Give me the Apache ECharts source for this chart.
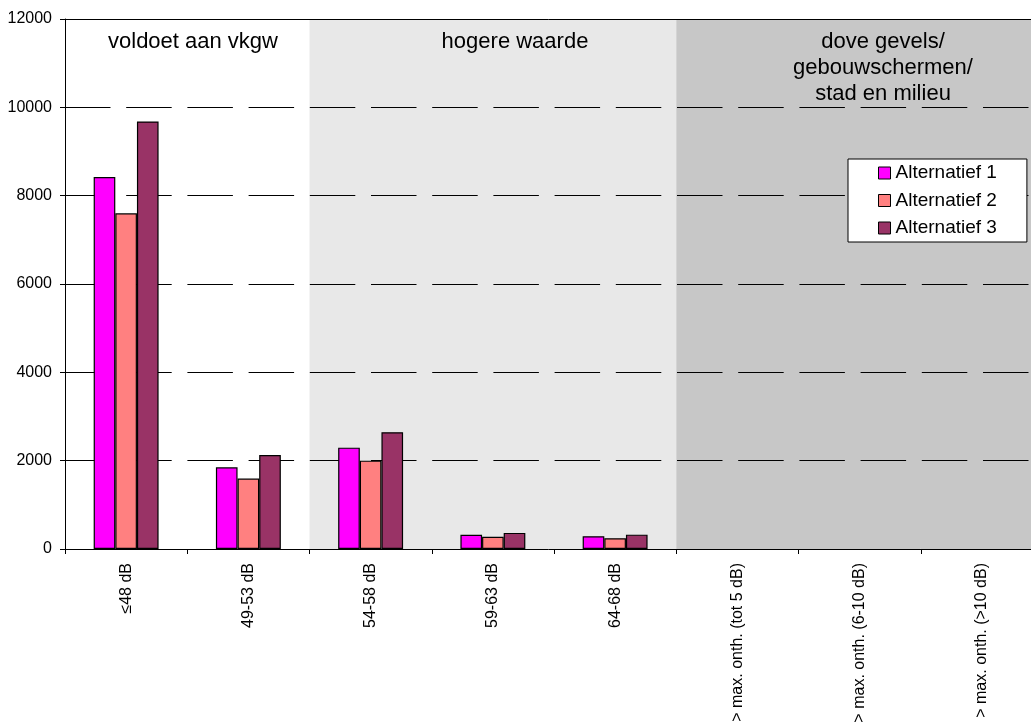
<!DOCTYPE html>
<html>
<head>
<meta charset="utf-8">
<script src="https://cdn.jsdelivr.net/npm/echarts@6/dist/echarts.min.js"></script>
<style>
  html, body { margin: 0; padding: 0; background: #ffffff; }
  #chart { width: 1031px; height: 724px; }
</style>
</head>
<body>
<div id="chart"></div>
<script>
// Noise classes (dB) and number of dwellings per alternative
const categories = [
  '≤48 dB', '49-53 dB', '54-58 dB', '59-63 dB', '64-68 dB',
  '> max. onth. (tot 5 dB)', '> max. onth. (6-10 dB)', '> max. onth. (>10 dB)'
];
const seriesNames = ['Alternatief 1', 'Alternatief 2', 'Alternatief 3'];
const alternatief1 = [8420, 1850, 2295, 320, 290, null, null, null];
const alternatief2 = [7600, 1595, 2000, 275, 245, null, null, null];
const alternatief3 = [9680, 2130, 2645, 365, 325, null, null, null];
const yTicks = { min: 0, max: 12000, step: 2000 };

// Background zones per category and the zone captions
const zoneFills = ['#ffffff', '#ffffff', '#e8e8e8', '#e8e8e8', '#e8e8e8', '#c7c7c7', '#c7c7c7', '#c7c7c7'];
const zoneCaptions = ['voldoet aan vkgw', 'hogere waarde', 'dove gevels/\ngebouwschermen/\nstad en milieu'];

const FONT = "'Liberation Sans', Arial, sans-serif";
const colors = ['#ff00ff', '#ff8080', '#993366'];
const values = [alternatief1, alternatief2, alternatief3];

const chart = echarts.init(document.getElementById('chart'), null, { renderer: 'canvas' });

function caption(text, x) {
  return {
    type: 'text',
    x: x,
    y: 29,
    z: 100,
    silent: true,
    style: {
      text: text,
      fontSize: 22,
      fontFamily: FONT,
      lineHeight: 26,
      fill: '#000',
      align: 'center',
      verticalAlign: 'top'
    }
  };
}

const option = {
  animation: false,
  backgroundColor: '#ffffff',
  textStyle: { fontFamily: FONT, color: '#000' },
  // plot runs a little past the right edge of the page; labels may overflow
  grid: { left: 65, top: 19, width: 978, height: 530, containLabel: false, outerBoundsMode: 'none' },
  xAxis: [
    {
      type: 'category',
      data: categories,
      boundaryGap: true,
      z: 0,
      axisLine: { show: true, lineStyle: { color: '#000', width: 1 } },
      axisTick: { show: true, inside: false, length: 5, alignWithLabel: false, interval: 0, lineStyle: { color: '#000' } },
      axisLabel: { interval: 0, rotate: 90, margin: 14, fontSize: 16, color: '#000', fontFamily: FONT },
      splitLine: { show: false },
      splitArea: { show: true, interval: 0, areaStyle: { color: zoneFills } }
    },
    {
      // frame line along the top of the plot
      type: 'category',
      data: categories,
      position: 'top',
      z: 3,
      axisLine: { show: true, onZero: false, lineStyle: { color: '#000', width: 1 } },
      axisTick: { show: false },
      axisLabel: { show: false },
      splitLine: { show: false }
    }
  ],
  yAxis: {
    type: 'value',
    min: yTicks.min,
    max: yTicks.max,
    interval: yTicks.step,
    z: 1,
    axisLine: { show: true, lineStyle: { color: '#000', width: 1 } },
    axisTick: { show: true, inside: false, length: 5, lineStyle: { color: '#000' } },
    axisLabel: { margin: 13, fontSize: 16, color: '#000', fontFamily: FONT, formatter: v => String(v) },
    splitLine: { show: true, lineStyle: { color: '#000', width: 1, type: [45.5, 15.7], dashOffset: 0 } }
  },
  legend: {
    orient: 'vertical',
    left: 848,
    top: 159,
    z: 10,
    data: seriesNames,
    icon: 'rect',
    itemWidth: 12,
    itemHeight: 12,
    itemGap: 8.5,
    padding: [4.5, 30, 4.5, 30],
    backgroundColor: '#ffffff',
    borderColor: '#000',
    borderWidth: 1,
    borderRadius: 0,
    itemStyle: { borderColor: '#000', borderWidth: 1 },
    textStyle: { fontSize: 19, lineHeight: 19, color: '#000', fontFamily: FONT, padding: 0 }
  },
  series: seriesNames.map((name, i) => ({
    name: name,
    type: 'bar',
    data: values[i],
    barWidth: '17.7%',
    barGap: '0%',
    z: 2,
    itemStyle: { color: colors[i], borderColor: '#000', borderWidth: 1.2 },
    emphasis: { disabled: true }
  })),
  graphic: {
    elements: [
      caption(zoneCaptions[0], 193),
      caption(zoneCaptions[1], 515),
      caption(zoneCaptions[2], 883)
    ]
  }
};

chart.setOption(option);
</script>
</body>
</html>
